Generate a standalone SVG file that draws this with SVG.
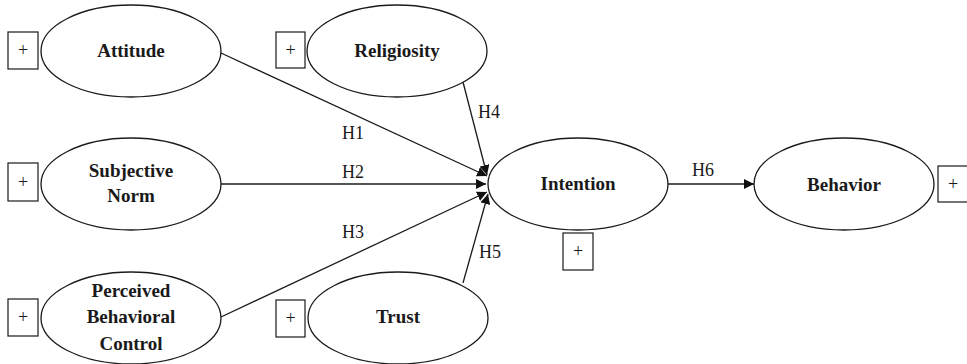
<svg xmlns="http://www.w3.org/2000/svg" width="967" height="364" viewBox="0 0 967 364">
<style>
.e{fill:#fff;stroke:#1a1a1a;stroke-width:1.3}
.b{fill:#fff;stroke:#1a1a1a;stroke-width:1.2}
.t{font-family:"Liberation Serif","DejaVu Serif",serif;font-weight:bold;font-size:19px;fill:#1a1a1a;text-anchor:middle}
.p{font-family:"Liberation Serif","DejaVu Serif",serif;font-size:18px;fill:#1a1a1a;text-anchor:middle}
.h{font-family:"Liberation Serif","DejaVu Serif",serif;font-size:18px;fill:#1a1a1a}
.c{stroke:#1a1a1a;stroke-width:1.3;fill:none;marker-end:url(#ar)}
</style>
<defs>
<marker id="ar" viewBox="0 0 10 10" refX="10" refY="5" markerWidth="10" markerHeight="10" markerUnits="userSpaceOnUse" orient="auto">
<path d="M0,0 L10,5 L0,10 z" fill="#111"/>
</marker>
</defs>
<g id="connectors">
<line class="c" x1="221" y1="53" x2="487" y2="176"/>
<line class="c" x1="221" y1="184" x2="486" y2="184"/>
<line class="c" x1="221" y1="317" x2="487" y2="192"/>
<line class="c" x1="463" y1="82" x2="487" y2="175"/>
<line class="c" x1="463" y1="283" x2="488" y2="194"/>
<line class="c" x1="668" y1="184" x2="754" y2="184"/>
<text class="h" x="342" y="139">H1</text>
<text class="h" x="342" y="178">H2</text>
<text class="h" x="342" y="238">H3</text>
<text class="h" x="478" y="118">H4</text>
<text class="h" x="479" y="258">H5</text>
<text class="h" x="692" y="176">H6</text>
</g>
<g id="attitude">
<ellipse class="e" cx="131" cy="51" rx="90" ry="46"/>
<text class="t" x="131" y="57">Attitude</text>
<rect class="b" x="8" y="32" width="30" height="37"/>
<text class="p" x="23" y="56">+</text>
</g>
<g id="religiosity">
<ellipse class="e" cx="397" cy="51" rx="90" ry="46"/>
<text class="t" x="397" y="57">Religiosity</text>
<rect class="b" x="276" y="32" width="29" height="36"/>
<text class="p" x="290.5" y="56">+</text>
</g>
<g id="subjective-norm">
<ellipse class="e" cx="131" cy="184" rx="90" ry="46"/>
<text class="t" x="131" y="177">Subjective</text>
<text class="t" x="131" y="202">Norm</text>
<rect class="b" x="8" y="163" width="30" height="38"/>
<text class="p" x="23" y="188">+</text>
</g>
<g id="perceived-behavioral-control">
<ellipse class="e" cx="131" cy="318" rx="90" ry="46"/>
<text class="t" x="131" y="297">Perceived</text>
<text class="t" x="131" y="323">Behavioral</text>
<text class="t" x="131" y="350">Control</text>
<rect class="b" x="8" y="299" width="30" height="37"/>
<text class="p" x="23" y="323">+</text>
</g>
<g id="trust">
<ellipse class="e" cx="398" cy="318" rx="90" ry="46"/>
<text class="t" x="398" y="323">Trust</text>
<rect class="b" x="276" y="300" width="29" height="37"/>
<text class="p" x="290.5" y="324">+</text>
</g>
<g id="intention">
<ellipse class="e" cx="578" cy="184" rx="90" ry="46"/>
<text class="t" x="578" y="190">Intention</text>
<rect class="b" x="563" y="233" width="30" height="37"/>
<text class="p" x="578" y="257">+</text>
</g>
<g id="behavior">
<ellipse class="e" cx="844" cy="184" rx="90" ry="46"/>
<text class="t" x="844" y="191">Behavior</text>
<rect class="b" x="938" y="166" width="30" height="36"/>
<text class="p" x="953" y="190">+</text>
</g>
</svg>
